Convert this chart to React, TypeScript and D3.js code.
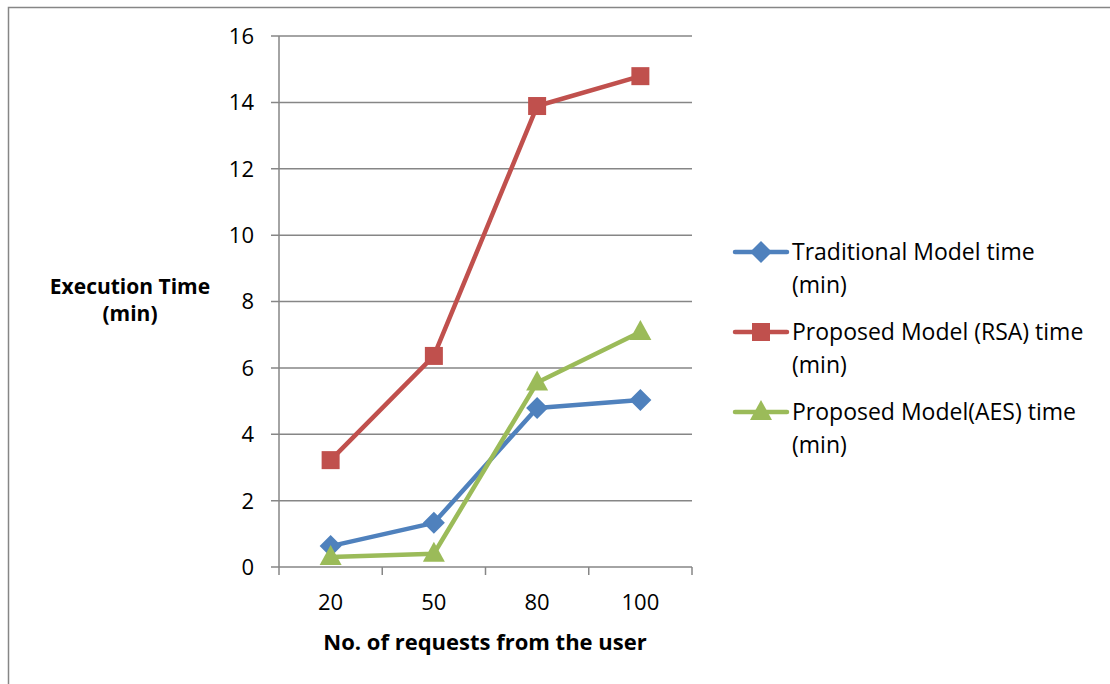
import React, { useEffect, useRef } from "react";
import * as d3 from "d3";

const categories = ["20", "50", "80", "100"];
const traditional = [0.63, 1.33, 4.79, 5.03];
const rsa = [3.22, 6.36, 13.89, 14.79];
const aes = [0.3, 0.4, 5.56, 7.08];
const yTicks = [0, 2, 4, 6, 8, 10, 12, 14, 16];

const series = [
  { name: ["Traditional Model time", "(min)"], values: traditional, color: "#4F81BD", marker: "diamond" },
  { name: ["Proposed Model (RSA) time", "(min)"], values: rsa, color: "#C0504D", marker: "square" },
  { name: ["Proposed Model(AES) time", "(min)"], values: aes, color: "#9BBB59", marker: "triangle" },
];

const W = 1110;
const H = 684;
const font = "'Open Sans', Lato, sans-serif";

export default function App() {
  const ref = useRef<SVGSVGElement>(null);

  useEffect(() => {
    const svg = d3.select(ref.current);
    svg.selectAll("*").remove();

    // chart border
    svg.append("rect")
      .attr("x", 8.5).attr("y", 7.5)
      .attr("width", W).attr("height", H)
      .attr("fill", "white").attr("stroke", "#868686").attr("stroke-width", 1.5);

    const left = 279, right = 692, top = 36, bottom = 567;

    const x = d3.scaleBand().domain(categories).range([left, right]);
    const y = d3.scaleLinear().domain([0, 16]).range([bottom, top]);

    // grid
    svg.append("g")
      .selectAll("line")
      .data(yTicks)
      .join("line")
      .attr("x1", left - 8).attr("x2", right)
      .attr("y1", (d) => y(d)).attr("y2", (d) => y(d))
      .attr("stroke", "#868686").attr("stroke-width", 1.5);

    // y axis line
    svg.append("line")
      .attr("x1", left).attr("x2", left).attr("y1", top).attr("y2", bottom)
      .attr("stroke", "#868686").attr("stroke-width", 1.5);

    // y tick labels
    svg.append("g")
      .selectAll("text")
      .data(yTicks)
      .join("text")
      .attr("x", 254).attr("y", (d) => y(d))
      .attr("dy", "0.36em")
      .attr("text-anchor", "end")
      .attr("font-family", font).attr("font-size", 22)
      .attr("fill", "#000")
      .text((d) => d);

    // x ticks
    const xt = categories.map((c) => x(c)!).concat([right]);
    svg.append("g")
      .selectAll("line")
      .data(xt)
      .join("line")
      .attr("x1", (d) => d).attr("x2", (d) => d)
      .attr("y1", bottom).attr("y2", bottom + 8)
      .attr("stroke", "#868686").attr("stroke-width", 1.5);

    svg.append("g")
      .selectAll("text")
      .data(categories)
      .join("text")
      .attr("x", (d) => x(d)! + x.bandwidth() / 2)
      .attr("y", 602).attr("dy", "0.36em")
      .attr("text-anchor", "middle")
      .attr("font-family", font).attr("font-size", 22)
      .text((d) => d);

    // axis titles
    svg.append("text")
      .attr("x", 485).attr("y", 642).attr("dy", "0.36em")
      .attr("text-anchor", "middle")
      .attr("font-family", font).attr("font-size", 22).attr("font-weight", "bold")
      .text("No. of requests from the user");

    svg.append("text")
      .attr("x", 130).attr("y", 294)
      .attr("text-anchor", "middle")
      .attr("font-family", font).attr("font-size", 21).attr("font-weight", "bold")
      .text("Execution Time");
    svg.append("text")
      .attr("x", 130).attr("y", 321)
      .attr("text-anchor", "middle")
      .attr("font-family", font).attr("font-size", 21).attr("font-weight", "bold")
      .text("(min)");

    const drawMarker = (g: any, type: string, cx: number, cy: number, color: string) => {
      if (type === "diamond") {
        g.append("path")
          .attr("d", `M${cx},${cy - 11}L${cx + 11},${cy}L${cx},${cy + 11}L${cx - 11},${cy}Z`)
          .attr("fill", color);
      } else if (type === "square") {
        g.append("rect")
          .attr("x", cx - 9).attr("y", cy - 9).attr("width", 18).attr("height", 18)
          .attr("fill", color);
      } else {
        g.append("path")
          .attr("d", `M${cx},${cy - 12}L${cx + 11},${cy + 8}L${cx - 11},${cy + 8}Z`)
          .attr("fill", color);
      }
    };

    const line = d3.line<number>()
      .x((d, i) => x(categories[i])! + x.bandwidth() / 2)
      .y((d) => y(d));

    series.forEach((s) => {
      const g = svg.append("g");
      g.append("path")
        .attr("d", line(s.values))
        .attr("fill", "none")
        .attr("stroke", s.color)
        .attr("stroke-width", 4.5)
        .attr("stroke-linejoin", "round")
        .attr("stroke-linecap", "round");
      s.values.forEach((v, i) => {
        drawMarker(g, s.marker, x(categories[i])! + x.bandwidth() / 2, y(v), s.color);
      });
    });

    // legend
    series.forEach((s, i) => {
      const ly = 252 + i * 80;
      const g = svg.append("g");
      g.append("line")
        .attr("x1", 735).attr("x2", 787).attr("y1", ly).attr("y2", ly)
        .attr("stroke", s.color).attr("stroke-width", 4.5).attr("stroke-linecap", "round");
      drawMarker(g, s.marker, 761, ly, s.color);
      g.append("text")
        .attr("x", 792).attr("y", ly).attr("dy", "0.36em")
        .attr("font-family", font).attr("font-size", 23).attr("fill", "#000")
        .text(s.name[0]);
      g.append("text")
        .attr("x", 792).attr("y", ly + 33).attr("dy", "0.36em")
        .attr("font-family", font).attr("font-size", 23).attr("fill", "#000")
        .text(s.name[1]);
    });
  }, []);

  return (
    <svg
      ref={ref}
      width={W}
      height={H}
      style={{ position: "absolute", left: 0, top: 0, display: "block" }}
    />
  );
}
